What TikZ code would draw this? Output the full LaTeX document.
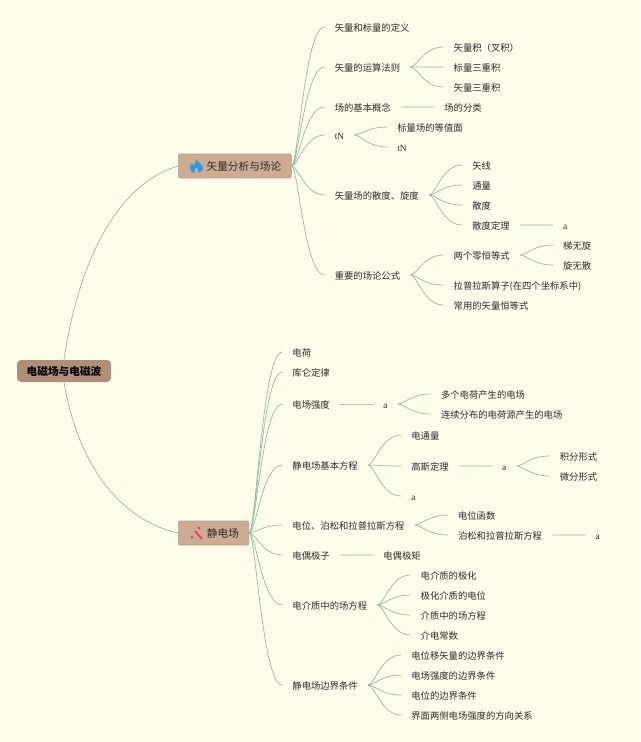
\documentclass[tikz,border=0pt]{standalone}
\usepackage{fontspec}
\setmainfont{Liberation Serif}
\newfontfamily\cjk{Noto Sans CJK SC}
\usetikzlibrary{positioning, calc}
\definecolor{bgcream}{HTML}{FFFCEB}
\definecolor{rootbrown}{HTML}{B08F78}
\definecolor{topictan}{HTML}{CFAA92}
\definecolor{topicedge}{HTML}{A9A88E}
\definecolor{linkgreen}{HTML}{8DBBA0}
\definecolor{inkgray}{HTML}{2B2B2B}
\definecolor{flameblue}{HTML}{2B9BE2}
\definecolor{sparkred}{HTML}{E2475F}

\begin{document}
\begin{tikzpicture}[x=0.75pt, y=-0.75pt, node distance=24.75pt,
    rootbox/.style={rectangle, rounded corners=3pt, fill=rootbrown, text=black,
                    inner xsep=7.25pt, minimum height=16.5pt, font=\cjk\fontsize{8pt}{10pt}\selectfont\bfseries},
    topicbox/.style={rectangle, rounded corners=1pt, draw=topicedge, fill=topictan, text=inkgray,
                     inner xsep=7.5pt, minimum height=18pt, font=\cjk\fontsize{8pt}{10pt}\selectfont},
    leaf/.style={text=inkgray, inner xsep=7.5pt, inner ysep=1pt, text height=8pt, text depth=1.1pt,
                 font=\cjk\fontsize{7pt}{9pt}\selectfont},
    latin/.style={leaf, text height=6pt, text depth=0pt, font=\rmfamily\fontsize{7pt}{9pt}\selectfont},
    link/.style={draw=linkgreen, line width=0.5pt, to path={
        .. controls ($(\tikztostart)!0.2!(\tikztostart -| \tikztotarget)$)
        and ($(\tikztotarget)!0.6!(\tikztotarget -| \tikztostart)$) .. (\tikztotarget)}},
    mainlink/.style={draw=linkgreen, line width=0.5pt}
]
\fill[bgcream] (0,0) rectangle (640,742);

% centre and the two topics
\node[rootbox] (root) at (64,371) {电磁场与电磁波};
\node[topicbox, anchor=west] (vecbox) at (178,166) {\hspace*{13.75pt}矢量分析与场论};
\node[topicbox, anchor=west] (statbox) at (178,533) {\hspace*{14pt}静电场};

% first topic
\node[leaf, right=of vecbox, yshift=104.25pt] (vdef) {矢量和标量的定义};
\node[leaf, right=of vecbox, yshift=74.25pt] (vop) {矢量的运算法则};
\node[leaf, right=of vecbox, yshift=44.25pt] (fbase) {场的基本概念};
\node[latin, right=of vecbox, yshift=23.25pt] (tna) {tN};
\node[leaf, right=of vecbox, yshift=-21.75pt] (fdiv) {矢量场的散度、旋度};
\node[leaf, right=of vecbox, yshift=-81.75pt] (fform) {重要的场论公式};

\node[leaf, right=of vop, yshift=15pt] (vcross) {矢量积（叉积）};
\node[leaf, right=of vop] (vtri) {标量三重积};
\node[leaf, right=of vop, yshift=-15pt] (vtrv) {矢量三重积};
\node[leaf, right=of fbase] (fkind) {场的分类};
\node[leaf, right=of tna, yshift=6pt, xshift=-0.25pt] (fiso) {标量场的等值面};
\node[latin, right=of tna, yshift=-9pt, xshift=-0.25pt] (tnb) {tN};
\node[leaf, right=of fdiv, yshift=22.5pt] (fline) {矢线};
\node[leaf, right=of fdiv, yshift=7.5pt] (fflux) {通量};
\node[leaf, right=of fdiv, yshift=-7.5pt] (fdeg) {散度};
\node[leaf, right=of fdiv, yshift=-22.5pt] (fthm) {散度定理};
\node[latin, right=of fthm] (aone) {a};
\node[leaf, right=of fform, yshift=15pt] (fzero) {两个零恒等式};
\node[leaf, right=of fform, yshift=-7.5pt] (flap) {拉普拉斯算子(在四个坐标系中)};
\node[leaf, right=of fform, yshift=-22.5pt] (fiden) {常用的矢量恒等式};
\node[leaf, right=of fzero, yshift=7.5pt] (fgrad) {梯无旋};
\node[leaf, right=of fzero, yshift=-7.5pt] (fcurl) {旋无散};

% second topic
\node[leaf, right=of statbox, yshift=135.75pt] (scharge) {电荷};
\node[leaf, right=of statbox, yshift=120.75pt] (scoul) {库仑定律};
\node[leaf, right=of statbox, yshift=96.75pt] (sfield) {电场强度};
\node[leaf, right=of statbox, yshift=51pt] (seq) {静电场基本方程};
\node[leaf, right=of statbox, yshift=6pt] (spot) {电位、泊松和拉普拉斯方程};
\node[leaf, right=of statbox, yshift=-16.5pt] (sdip) {电偶极子};
\node[leaf, right=of statbox, yshift=-54pt] (sdiel) {电介质中的场方程};
\node[leaf, right=of statbox, yshift=-114pt] (sbound) {静电场边界条件};

\node[latin, right=of sfield] (atwo) {a};
\node[leaf, right=of atwo, yshift=7.5pt] (emany) {多个电荷产生的电场};
\node[leaf, right=of atwo, yshift=-7.5pt] (econt) {连续分布的电荷源产生的电场};
\node[leaf, right=of seq, yshift=22.5pt] (gflux) {电通量};
\node[leaf, right=of seq, yshift=-0.75pt] (gauss) {高斯定理};
\node[latin, right=of seq, yshift=-23.25pt] (athree) {a};
\node[latin, right=of gauss] (afour) {a};
\node[leaf, right=of afour, yshift=7.5pt] (gint) {积分形式};
\node[leaf, right=of afour, yshift=-7.5pt] (gdif) {微分形式};
\node[leaf, right=of spot, yshift=7.5pt] (pfunc) {电位函数};
\node[leaf, right=of spot, yshift=-7.5pt] (peq) {泊松和拉普拉斯方程};
\node[latin, right=of peq] (afive) {a};
\node[leaf, right=of sdip] (dmom) {电偶极矩};
\node[leaf, right=of sdiel, yshift=22.5pt] (dpol) {电介质的极化};
\node[leaf, right=of sdiel, yshift=7.5pt] (dpot) {极化介质的电位};
\node[leaf, right=of sdiel, yshift=-7.5pt] (deq) {介质中的场方程};
\node[leaf, right=of sdiel, yshift=-22.5pt] (dcon) {介电常数};
\node[leaf, right=of sbound, yshift=22.5pt] (bdis) {电位移矢量的边界条件};
\node[leaf, right=of sbound, yshift=7.5pt] (bfld) {电场强度的边界条件};
\node[leaf, right=of sbound, yshift=-7.5pt] (bpot) {电位的边界条件};
\node[leaf, right=of sbound, yshift=-22.5pt] (bdir) {界面两侧电场强度的方向关系};

% icons in the topics
\fill[flameblue] (196,159) .. controls (197,162) and (203,164) .. (203,168)
    .. controls (203,171) and (200,173) .. (196,173)
    .. controls (192,173) and (190,171) .. (190,168)
    .. controls (190,166) and (191,164) .. (192,163)
    .. controls (193,164) and (193,165) .. (193.5,165.5)
    .. controls (195,164) and (196,162) .. (196,159) -- cycle;
\fill[topictan] (196.5,167.5) .. controls (198,169) and (199,171) .. (198.5,173)
    -- (194.5,173) .. controls (194,171) and (195,169) .. (196.5,167.5) -- cycle;
\draw[sparkred, line width=1.3pt] (195,531) -- (202,539);
\fill[sparkred] (199,526.5) -- (200.5,528) -- (199,529.5) -- (197.5,528) -- cycle;
\fill[sparkred] (196.5,531) -- (197.5,532) -- (196.5,533) -- (195.5,532) -- cycle;
\fill[sparkred] (192,535.5) -- (193.5,537) -- (192,538.5) -- (190.5,537) -- cycle;

% connectors
\draw[mainlink] (root.north) .. controls (78,265) and (115,185) .. (vecbox.west);
\draw[mainlink] (root.south) .. controls (78,465) and (120,520) .. (statbox.west);

\draw[link] (vecbox.east) to (vdef.west);
\draw[link] (vecbox.east) to (vop.west);
\draw[link] (vecbox.east) to (fbase.west);
\draw[link] (vecbox.east) to (tna.west);
\draw[link] (vecbox.east) to (fdiv.west);
\draw[link] (vecbox.east) to (fform.west);
\draw[link] (vop.east) to (vcross.west);
\draw[link] (vop.east) to (vtri.west);
\draw[link] (vop.east) to (vtrv.west);
\draw[link] (fbase.east) to (fkind.west);
\draw[link] (tna.east) to (fiso.west);
\draw[link] (tna.east) to (tnb.west);
\draw[link] (fdiv.east) to (fline.west);
\draw[link] (fdiv.east) to (fflux.west);
\draw[link] (fdiv.east) to (fdeg.west);
\draw[link] (fdiv.east) to (fthm.west);
\draw[link] (fthm.east) to (aone.west);
\draw[link] (fform.east) to (fzero.west);
\draw[link] (fform.east) to (flap.west);
\draw[link] (fform.east) to (fiden.west);
\draw[link] (fzero.east) to (fgrad.west);
\draw[link] (fzero.east) to (fcurl.west);

\draw[link] (statbox.east) to (scharge.west);
\draw[link] (statbox.east) to (scoul.west);
\draw[link] (statbox.east) to (sfield.west);
\draw[link] (statbox.east) to (seq.west);
\draw[link] (statbox.east) to (spot.west);
\draw[link] (statbox.east) to (sdip.west);
\draw[link] (statbox.east) to (sdiel.west);
\draw[link] (statbox.east) to (sbound.west);
\draw[link] (sfield.east) to (atwo.west);
\draw[link] (atwo.east) to (emany.west);
\draw[link] (atwo.east) to (econt.west);
\draw[link] (seq.east) to (gflux.west);
\draw[link] (seq.east) to (gauss.west);
\draw[link] (seq.east) to (athree.west);
\draw[link] (gauss.east) to (afour.west);
\draw[link] (afour.east) to (gint.west);
\draw[link] (afour.east) to (gdif.west);
\draw[link] (spot.east) to (pfunc.west);
\draw[link] (spot.east) to (peq.west);
\draw[link] (peq.east) to (afive.west);
\draw[link] (sdip.east) to (dmom.west);
\draw[link] (sdiel.east) to (dpol.west);
\draw[link] (sdiel.east) to (dpot.west);
\draw[link] (sdiel.east) to (deq.west);
\draw[link] (sdiel.east) to (dcon.west);
\draw[link] (sbound.east) to (bdis.west);
\draw[link] (sbound.east) to (bfld.west);
\draw[link] (sbound.east) to (bpot.west);
\draw[link] (sbound.east) to (bdir.west);
\end{tikzpicture}
\end{document}
